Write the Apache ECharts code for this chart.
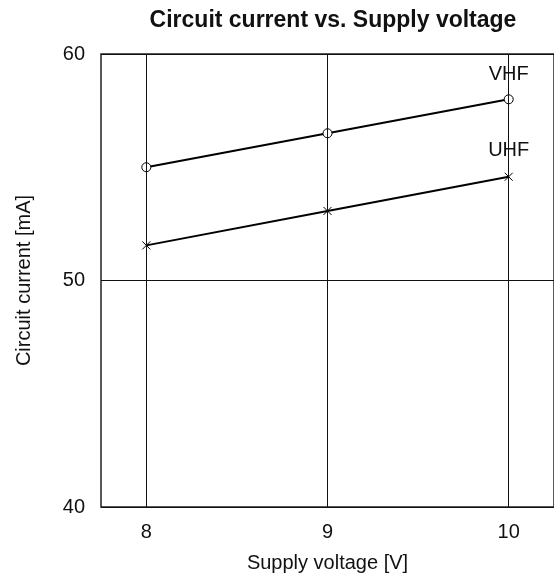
<!DOCTYPE html>
<html><head><meta charset="utf-8">
<script src="https://cdn.jsdelivr.net/npm/echarts@6/dist/echarts.min.js"></script>
<style>html,body{margin:0;padding:0;background:#fff}#c{width:554px;height:583px}</style>
</head><body><div id="c"></div>
<script>
const voltages = [8, 9, 10];
const vhfCurrent = [55.0, 56.5, 58.0];
const uhfCurrent = [51.55, 53.07, 54.58];
const xTicks = [8, 9, 10];
const yTicks = [40, 50, 60];
const seriesNames = ['VHF', 'UHF'];

const font = 'Liberation Sans, Arial, sans-serif';
const fs = 20;
function mkData(vals, name) {
  return voltages.map((v, i) => {
    const d = { value: [v, vals[i]] };
    if (i === voltages.length - 1) {
      d.label = { show: true, formatter: name, position: 'top', distance: 10,
        fontSize: fs, color: '#111', fontFamily: font };
    }
    return d;
  });
}
const chart = echarts.init(document.getElementById('c'));
chart.setOption({
  animation: false,
  title: { text: 'Circuit current vs. Supply voltage', left: 328, textAlign: 'center', top: 4,
    textStyle: { fontSize: 23, fontWeight: 'bold', color: '#111', fontFamily: font } },
  grid: { left: 101, top: 54, width: 454, height: 453, show: true, borderColor: '#222', borderWidth: 1.5, backgroundColor: 'transparent' },
  xAxis: { type: 'value', min: 7.75, max: 10.25,
    name: 'Supply voltage [V]', nameLocation: 'middle', nameGap: 46,
    nameTextStyle: { fontSize: fs, color: '#111', fontFamily: font },
    axisLine: { show: false }, axisTick: { show: false }, splitLine: { show: false },
    axisLabel: { customValues: xTicks, fontSize: fs, color: '#111', fontFamily: font, margin: 15 } },
  yAxis: { type: 'value', min: yTicks[0], max: yTicks[yTicks.length - 1], interval: yTicks[1] - yTicks[0],
    name: 'Circuit current [mA]', nameLocation: 'middle', nameGap: 67, nameRotate: 90,
    nameTextStyle: { fontSize: fs, color: '#111', fontFamily: font },
    axisLine: { show: false }, axisTick: { show: false },
    splitLine: { show: true, lineStyle: { color: '#111', width: 1 } },
    axisLabel: { fontSize: fs, color: '#111', fontFamily: font, margin: 16 } },
  series: [
    { name: seriesNames[0], type: 'line', data: mkData(vhfCurrent, seriesNames[0]),
      symbol: 'circle', symbolSize: 9,
      lineStyle: { color: '#000', width: 2 },
      itemStyle: { color: '#fff', borderColor: '#000', borderWidth: 1 },
      markLine: { silent: true, symbol: 'none', label: { show: false },
        lineStyle: { color: '#111', width: 1, type: 'solid' },
        data: xTicks.map(v => ({ xAxis: v })) }, z: 3 },
    { name: seriesNames[1], type: 'line', data: mkData(uhfCurrent, seriesNames[1]),
      symbol: 'path://M0,0L10,10M10,0L0,10', symbolSize: 8,
      lineStyle: { color: '#000', width: 2 },
      itemStyle: { color: 'none', borderColor: '#000', borderWidth: 1 }, z: 3 }
  ]
});
</script></body></html>
